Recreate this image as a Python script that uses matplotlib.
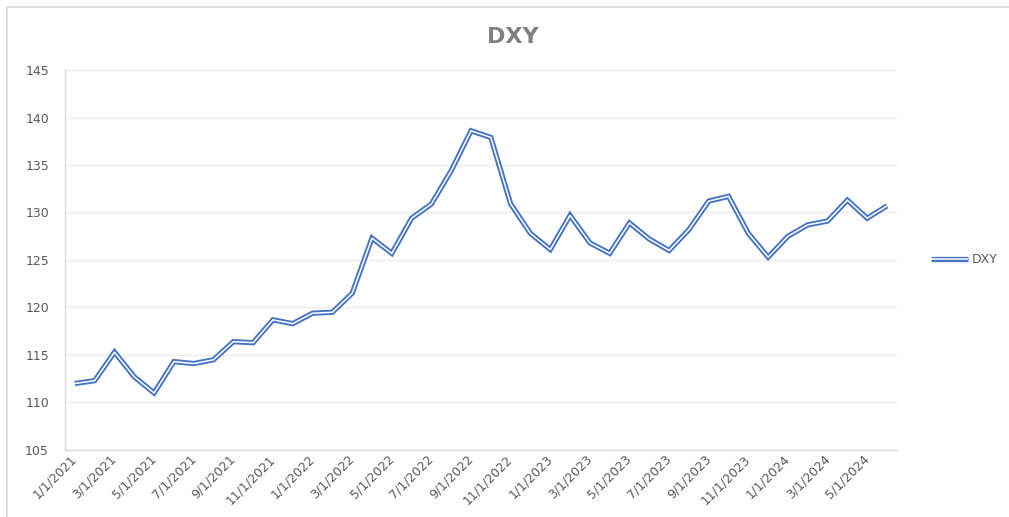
import numpy as np
import pandas as pd
import matplotlib
matplotlib.use("Agg")
import matplotlib.pyplot as plt
import matplotlib.patheffects as pe
from matplotlib.patches import Rectangle

# Data DXY bulanan, Jan 2021 - Jun 2024
months = pd.date_range("2021-01-01", periods=42, freq="MS")
month_labels = [f"{d.month}/{d.day}/{d.year}" for d in months]
dxy = [112.0, 112.3, 115.3, 112.7, 111.0, 114.3, 114.1, 114.5, 116.4, 116.3,
       118.7, 118.3, 119.4, 119.5, 121.5, 127.3, 125.7, 129.4, 130.9, 134.4,
       138.6, 137.9, 130.9, 127.8, 126.1, 129.7, 126.8, 125.7, 128.9, 127.2,
       126.0, 128.2, 131.2, 131.7, 127.8, 125.3, 127.5, 128.7, 129.1, 131.3,
       129.4, 130.7]
y_ticks = [105, 110, 115, 120, 125, 130, 135, 140, 145]

blue = "#4472C4"
grey_text = "#595959"

fig = plt.figure(figsize=(10.09, 5.17), dpi=100)
# Border chart area (kanan dan bawah terpotong)
fig.patches.append(Rectangle((0.0069, -0.05), 1.05, 1.036, transform=fig.transFigure,
                             fill=False, edgecolor="#D9D9D9", linewidth=1.2))

ax = fig.add_axes([0.0644, 0.1296, 0.8245, 0.735])

x = np.arange(len(dxy))
# Garis ganda (compound line) ala Excel
ax.plot(x, dxy, color="white", linewidth=1.1, label="DXY",
        solid_capstyle="butt", solid_joinstyle="miter",
        path_effects=[pe.Stroke(linewidth=3.8, foreground=blue, capstyle="butt"),
                      pe.Normal()])

ax.set_xlim(-0.5, len(dxy) - 0.5)
ax.set_ylim(105, 145)
ax.set_yticks(y_ticks)
ax.set_yticklabels([str(v) for v in y_ticks])
ax.set_xticks(x[::2])
ax.set_xticklabels(month_labels[::2], rotation=45, ha="right",
                   rotation_mode="anchor", va="center")

ax.grid(axis="y", color="#EDEDED", linewidth=1.0)
ax.set_axisbelow(True)
for side in ["top", "right"]:
    ax.spines[side].set_visible(False)
for side in ["left", "bottom"]:
    ax.spines[side].set_color("#D9D9D9")
    ax.spines[side].set_linewidth(1.0)
ax.tick_params(axis="both", length=0, colors=grey_text, labelsize=9)
ax.tick_params(axis="y", pad=11.5)
ax.tick_params(axis="x", pad=5)

fig.text(0.508, 0.928, "DXY", ha="center", va="center", fontsize=16,
         fontweight="bold", color="#808080")

leg = ax.legend(loc="center left", bbox_to_anchor=(1.028, 0.5), frameon=False,
                fontsize=9, handlelength=2.9, handletextpad=0.3)
for t in leg.get_texts():
    t.set_color(grey_text)

fig.savefig("out.png", dpi=100)
